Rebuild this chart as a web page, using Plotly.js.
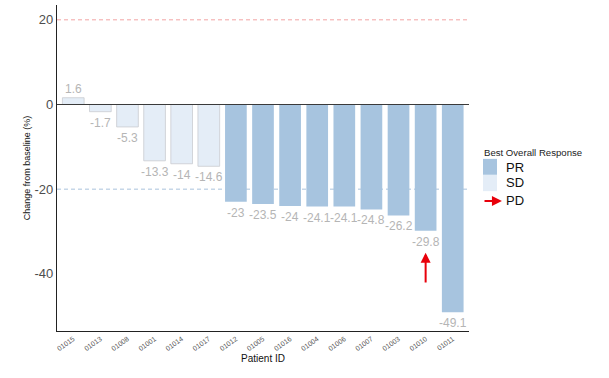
<!DOCTYPE html>
<html>
<head>
<meta charset="utf-8">
<script src="https://cdn.plot.ly/plotly-3.0.1.min.js"></script>
<style>html,body{margin:0;padding:0;background:#fff;}#chart{width:609px;height:378px;}#err{position:absolute;left:0;top:0;font:10px sans-serif;color:red;}</style>
</head>
<body>
<div id="chart"></div>
<div id="err"></div>
<script>
window.onerror = function(m){ document.getElementById("err").textContent = m; };
const patients = ["01015","01013","01008","01001","01014","01017","01012","01005","01016","01004","01006","01007","01003","01010","01011"];
const changes = [1.6,-1.7,-5.3,-13.3,-14,-14.6,-23,-23.5,-24,-24.1,-24.1,-24.8,-26.2,-29.8,-49.1];
const responses = ["SD","SD","SD","SD","SD","SD","PR","PR","PR","PR","PR","PR","PR","PR","PR"];
const pdPatients = ["01010"];
const pdArrow = [-42.4, -35];

const colors = {PR: "#a7c4df", SD: "#e4edf7"};
const font = "Liberation Sans, Arial, sans-serif";

function traceFor(resp) {
  const x = [], y = [];
  patients.forEach((p, i) => {
    if (responses[i] === resp) { x.push(p); y.push(changes[i]); }
  });
  return {
    type: "bar", x: x, y: y, name: resp,
    marker: {color: colors[resp], line: {color: resp === "SD" ? "#c9ccd1" : colors[resp], width: resp === "SD" ? 0.8 : 0}},
    showlegend: false, hoverinfo: "skip"
  };
}

const data = [traceFor("SD"), traceFor("PR")];

const shapes = [
  {type: "line", xref: "paper", x0: 0, x1: 1, yref: "y", y0: 20, y1: 20, line: {color: "#f2a3a3", width: 1, dash: "4px,3px"}},
  {type: "line", xref: "paper", x0: 0, x1: 1, yref: "y", y0: -20, y1: -20, layer: "below", line: {color: "#a9c2dc", width: 1, dash: "4px,3px"}},
  {type: "line", xref: "paper", x0: 0, x1: 1, yref: "y", y0: 0, y1: 0, line: {color: "#3a3a3a", width: 1.2}},
  {type: "rect", xref: "paper", yref: "paper", x0: 1.034, x1: 1.068, y0: 0.479, y1: 0.528, fillcolor: colors.PR, line: {width: 0}},
  {type: "rect", xref: "paper", yref: "paper", x0: 1.034, x1: 1.068, y0: 0.429, y1: 0.479, fillcolor: colors.SD, line: {width: 0}}
];

const annotations = [];
patients.forEach((p, i) => {
  const v = changes[i];
  annotations.push({
    x: i, y: v, xref: "x", yref: "y", showarrow: false, text: String(v),
    yanchor: v >= 0 ? "bottom" : "top", yshift: v >= 0 ? 0 : -2,
    font: {size: 12, color: "#b5b5b5", family: font}
  });
});
pdPatients.forEach(p => {
  const idx = patients.indexOf(p);
  annotations.push({
    x: idx, y: pdArrow[1], ax: idx, ay: pdArrow[0], xref: "x", yref: "y", axref: "x", ayref: "y",
    showarrow: true, arrowhead: 2, arrowsize: 1, arrowwidth: 2, arrowcolor: "#e8000b", text: ""
  });
});
annotations.push(
  {xref: "paper", yref: "paper", x: 1.032, y: 0.549, xanchor: "left", yanchor: "middle", showarrow: false,
   text: "Best Overall Response", font: {size: 9.6, color: "#222", family: font}},
  {xref: "paper", yref: "paper", x: 1.085, y: 0.503, xanchor: "left", yanchor: "middle", showarrow: false,
   text: "PR", font: {size: 13, color: "#111", family: font}},
  {xref: "paper", yref: "paper", x: 1.085, y: 0.454, xanchor: "left", yanchor: "middle", showarrow: false,
   text: "SD", font: {size: 13, color: "#111", family: font}},
  {xref: "paper", yref: "paper", x: 1.085, y: 0.399, xanchor: "left", yanchor: "middle", showarrow: false,
   text: "PD", font: {size: 13, color: "#111", family: font}},
  {xref: "paper", yref: "paper", x: 1.08, y: 0.399, ax: 1.034, ay: 0.399, axref: "paper", ayref: "paper",
   showarrow: true, arrowhead: 2, arrowsize: 1, arrowwidth: 2, arrowcolor: "#e8000b", text: ""}
);

const layout = {
  width: 609, height: 378,
  margin: {l: 57, r: 140, t: 5, b: 47},
  paper_bgcolor: "#fff", plot_bgcolor: "#fff",
  barmode: "relative", bargap: 0.2,
  font: {family: font},
  xaxis: {
    type: "category", categoryorder: "array", categoryarray: patients,
    range: [-0.6, 14.6], showgrid: false, zeroline: false,
    showline: true, linecolor: "#222", linewidth: 1.2,
    tickangle: -35, tickfont: {size: 7, color: "#555", family: font}, ticks: "",
    title: {text: "Patient ID", font: {size: 10, color: "#111", family: font}, standoff: 4}
  },
  yaxis: {
    range: [-53.5, 23.5], tickvals: [-40, -20, 0, 20], ticktext: ["-40", "-20", "0", "20"],
    showgrid: false, zeroline: false, showline: true, linecolor: "#222", linewidth: 1.2,
    ticks: "", tickfont: {size: 13, color: "#4d4d4d", family: font},
    title: {text: "Change from baseline (%)", font: {size: 9, color: "#111", family: font}, standoff: 2}
  },
  shapes: shapes, annotations: annotations, showlegend: false
};

Plotly.newPlot("chart", data, layout, {staticPlot: true, displayModeBar: false}).catch(e => {
  document.getElementById("err").textContent = String(e);
});
</script>
</body>
</html>
